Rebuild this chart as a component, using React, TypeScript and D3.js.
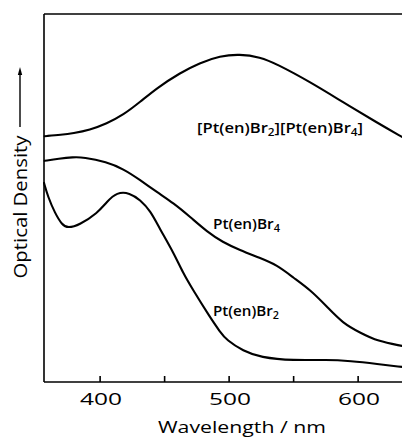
import React from 'react';
import * as d3 from 'd3';

// Wavelength axis
const majorTicks = [400, 500, 600];
const minorTicks = [450, 550];

// [Pt(en)Br2][Pt(en)Br4]
const mixedWl = [357, 370, 379, 392, 405, 418, 431, 444, 462, 477, 493, 508, 524, 537, 563, 588, 615, 634];
const mixedOD = [0.668, 0.672, 0.676, 0.685, 0.702, 0.726, 0.761, 0.799, 0.84, 0.867, 0.886, 0.891, 0.883, 0.864, 0.815, 0.761, 0.704, 0.666];

// Pt(en)Br4
const br4Wl = [357, 368, 379, 387, 405, 418, 431, 444, 457, 470, 483, 495, 508, 524, 537, 550, 563, 576, 588, 602, 615, 634];
const br4OD = [0.601, 0.607, 0.611, 0.611, 0.598, 0.579, 0.549, 0.516, 0.486, 0.448, 0.408, 0.38, 0.359, 0.337, 0.318, 0.283, 0.25, 0.204, 0.16, 0.133, 0.111, 0.098];

// Pt(en)Br2
const br2Wl = [356.5, 359.6, 365, 370.5, 375, 384, 398, 405, 413, 423, 431, 439, 446, 457, 464, 472, 485, 493, 498, 511, 524, 550, 576, 594, 615, 634];
const br2OD = [0.541, 0.503, 0.459, 0.427, 0.418, 0.427, 0.459, 0.489, 0.516, 0.514, 0.495, 0.465, 0.418, 0.351, 0.298, 0.25, 0.177, 0.136, 0.114, 0.084, 0.067, 0.058, 0.061, 0.057, 0.049, 0.041];

const W = 402;
const H = 437;
const left = 44;
const right = 402;
const top = 14;
const bottom = 382;

const FONT = '"Open Sans", "DejaVu Sans", sans-serif';

export default function App() {
  const x = d3.scaleLinear().domain([356.5, 634]).range([left, right]);
  const y = d3.scaleLinear().domain([0, 1]).range([bottom, top]);

  const line = d3
    .line<[number, number]>()
    .x((d) => x(d[0]))
    .y((d) => y(d[1]))
    .curve(d3.curveBasis);

  const series = [
    d3.zip(mixedWl, mixedOD) as [number, number][],
    d3.zip(br4Wl, br4OD) as [number, number][],
    d3.zip(br2Wl, br2OD) as [number, number][],
  ];

  const sub = { fontSize: 10, dy: 3 };

  return (
    <svg
      width={W}
      height={H}
      viewBox={`0 0 ${W} ${H}`}
      style={{ position: 'absolute', left: 0, top: 0, background: '#fff' }}
    >
      <rect x={0} y={0} width={W} height={H} fill="#fff" />
      {/* frame */}
      <g stroke="#000" strokeWidth={1.6} fill="none">
        <line x1={left} y1={top} x2={right} y2={top} />
        <line x1={left} y1={top} x2={left} y2={bottom} />
        <line x1={left} y1={bottom} x2={right} y2={bottom} />
        {[...majorTicks, ...minorTicks].map((t) => (
          <line key={t} x1={x(t)} x2={x(t)} y1={bottom} y2={bottom - 6} />
        ))}
      </g>

      {/* spectra */}
      <g fill="none" stroke="#000" strokeWidth={2.1} strokeLinejoin="round" strokeLinecap="round">
        {series.map((s, i) => (
          <path key={i} d={line(s) ?? ''} />
        ))}
      </g>

      {/* tick labels */}
      <g fontFamily={FONT} fontSize={17} fill="#000" textAnchor="middle">
        {majorTicks.map((t) => (
          <text key={t} x={x(t) + 1} y={405} textLength={42} lengthAdjust="spacingAndGlyphs">
            {t}
          </text>
        ))}
      </g>

      {/* axis titles */}
      <text
        x={242}
        y={433}
        fontFamily={FONT}
        fontSize={17}
        textAnchor="middle"
        textLength={168}
        lengthAdjust="spacingAndGlyphs"
      >
        Wavelength / nm
      </text>

      <text
        transform="translate(27,207) rotate(-90)"
        fontFamily={FONT}
        fontSize={18}
        textAnchor="middle"
        textLength={143}
        lengthAdjust="spacingAndGlyphs"
      >
        Optical Density
      </text>
      <line x1={20} y1={127} x2={20} y2={74} stroke="#000" strokeWidth={1.4} />
      <path d="M20,67 L17.8,75 L22.2,75 Z" fill="#000" />

      {/* curve labels */}
      <g fontFamily={FONT} fontSize={14} fontWeight={600} fill="#000">
        <text x={197} y={133} textLength={166} lengthAdjust="spacingAndGlyphs">
          [Pt(en)Br<tspan fontSize={sub.fontSize} dy={sub.dy}>2</tspan>
          <tspan dy={-sub.dy}>][Pt(en)Br</tspan>
          <tspan fontSize={sub.fontSize} dy={sub.dy}>4</tspan>
          <tspan dy={-sub.dy}>]</tspan>
        </text>
        <text x={213} y={229} textLength={67} lengthAdjust="spacingAndGlyphs">
          Pt(en)Br<tspan fontSize={sub.fontSize} dy={sub.dy}>4</tspan>
        </text>
        <text x={213} y={316} textLength={66} lengthAdjust="spacingAndGlyphs">
          Pt(en)Br<tspan fontSize={sub.fontSize} dy={sub.dy}>2</tspan>
        </text>
      </g>
    </svg>
  );
}
